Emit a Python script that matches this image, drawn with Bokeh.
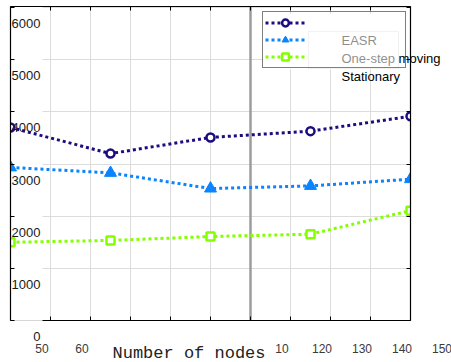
from bokeh.plotting import figure
from bokeh.models import (Range1d, LinearAxis, FixedTicker, Span, Legend,
                          LegendItem, Label, BoxAnnotation)
from bokeh.core.properties import value
from bokeh.embed import file_html
from bokeh.resources import INLINE

# ---------------- data ----------------
nodes = [50, 75, 100, 125, 150]
easr = [3700, 3200, 3510, 3630, 3915]
one_step_moving = [2935, 2830, 2530, 2580, 2710]
stationary = [1500, 1535, 1610, 1655, 2105]

series_names = ["EASR", "One-step moving", "Stationary"]

x_ticks = [50, 60, 70, 80, 90, 100, 110, 120, 130, 140, 150]
y_ticks = [0, 1000, 2000, 3000, 4000, 5000, 6000]
y_tick_labels = ["0", "1000", "2000", "3000", "4000", "5000", "6000"]
x_label_ticks = [50, 60, 110, 120, 130, 140, 150]
x_label_texts = ["50", "60", "10", "120", "130", "140", "150"]
x_title = "Number of nodes"
marked_x = 110

X0, X1, Y0, Y1 = 50, 150, 0, 6020

# ---------------- figure ----------------
p = figure(frame_width=400, frame_height=314,
           x_range=Range1d(X0, X1), y_range=Range1d(Y0, Y1),
           output_backend="svg", toolbar_location=None,
           min_border_left=10, min_border_right=41,
           min_border_top=6, min_border_bottom=42,
           background_fill_color="white", border_fill_color="white")
p.outline_line_color = "#c8c8c8"


def style_axis(ax, ticks):
    ax.ticker = FixedTicker(ticks=ticks, minor_ticks=[])
    ax.major_label_overrides = {t: "" for t in ticks}
    ax.major_label_text_font_size = "0px"
    ax.major_label_standoff = 0
    ax.major_tick_in = 4
    ax.major_tick_out = 0
    ax.minor_tick_in = 0
    ax.minor_tick_out = 0
    ax.axis_line_color = "black"
    ax.axis_line_width = 1.2
    ax.major_tick_line_color = "black"


style_axis(p.xaxis[0], x_ticks)
style_axis(p.yaxis[0], y_ticks)
p.xaxis[0].bounds = (58, 150)

top_ax = LinearAxis()
style_axis(top_ax, x_ticks)
p.add_layout(top_ax, "above")
right_ax = LinearAxis()
style_axis(right_ax, y_ticks)
p.add_layout(right_ax, "right")

p.xgrid.ticker = FixedTicker(ticks=x_ticks)
p.ygrid.ticker = FixedTicker(ticks=y_ticks)
for g in (p.xgrid[0], p.ygrid[0]):
    g.grid_line_color = "#dcdcdc"
    g.grid_line_width = 1

# horizontal grid lines start a little right of the left axis in the source
p.add_layout(BoxAnnotation(left=X0, right=58, fill_color="white", fill_alpha=1,
                           line_color=None, level="underlay"))
# white backing of the legend box (hides grid lines)
p.add_layout(BoxAnnotation(left=113, right=148.5, top=5885, bottom=4811,
                           fill_color="white", fill_alpha=1,
                           line_color=None, level="underlay"))

p.add_layout(Span(location=marked_x, dimension="height", line_color="#9c9c9c",
                  line_width=2.5, level="underlay"))

# ---------------- series ----------------
colors = ["#1b0c80", "#0a84ff", "#84ff00"]
markers = ["circle", "triangle", "square"]
items = []
for ys, c, m in zip([easr, one_step_moving, stationary], colors, markers):
    ln = p.line(nodes, ys, line_color=c, line_width=3, line_dash="3 3")
    if m == "triangle":
        sc = p.scatter(nodes, ys, marker=m, size=12, fill_color=c,
                       line_color=c, line_width=1)
    else:
        sc = p.scatter(nodes, ys, marker=m, size=8, fill_color="white",
                       line_color=c, line_width=2.5)
    items.append(LegendItem(label=value(""), renderers=[ln, sc]))

leg = Legend(items=items, location=(252, 252), orientation="vertical",
             padding=2, spacing=0, glyph_width=40, glyph_height=17,
             label_height=17, label_width=93, label_standoff=5, margin=0,
             border_line_color="black", border_line_width=1,
             background_fill_alpha=0)
p.add_layout(leg)

# legend texts (misregistered one row down in the source figure)
for i, name in enumerate(series_names):
    p.add_layout(Label(x=X0, x_units="data", x_offset=331,
                       y=Y1, y_units="data", y_offset=-34 - 18 * i,
                       text=name, text_font="Liberation Sans",
                       text_font_size="13px", text_color="black",
                       text_align="left", text_baseline="middle"), "below")

# translucent panel partly covering the legend texts
p.add_layout(BoxAnnotation(left=124.5, right=147.0, top=5540, bottom=4830,
                           fill_color="white", fill_alpha=0.55,
                           line_color="#d0d0d0", line_width=1), "below")

# tick labels
for v, t in zip(y_ticks, y_tick_labels):
    p.add_layout(Label(x=X0, x_units="data", x_offset=30, y=v, y_units="data",
                       y_offset=-16, text=t, text_font="Liberation Sans",
                       text_font_size="13px", text_color="#1a1a1a",
                       text_align="right", text_baseline="middle"), "below")
for v, t in zip(x_label_ticks, x_label_texts):
    p.add_layout(Label(x=v, x_units="data", x_offset=31.5, y=Y0, y_units="data",
                       y_offset=-28, text=t, text_font="Liberation Sans",
                       text_font_size="12px", text_color="#3a3a3a",
                       text_align="center", text_baseline="middle"), "below")

p.add_layout(Label(x=X0, x_units="data", x_offset=102, y=Y0, y_units="data",
                   y_offset=-33, text=x_title, text_font="Liberation Mono",
                   text_font_size="17px", text_color="#222222",
                   text_align="left", text_baseline="middle"), "below")

open("out.html", "w").write(file_html(p, INLINE))
